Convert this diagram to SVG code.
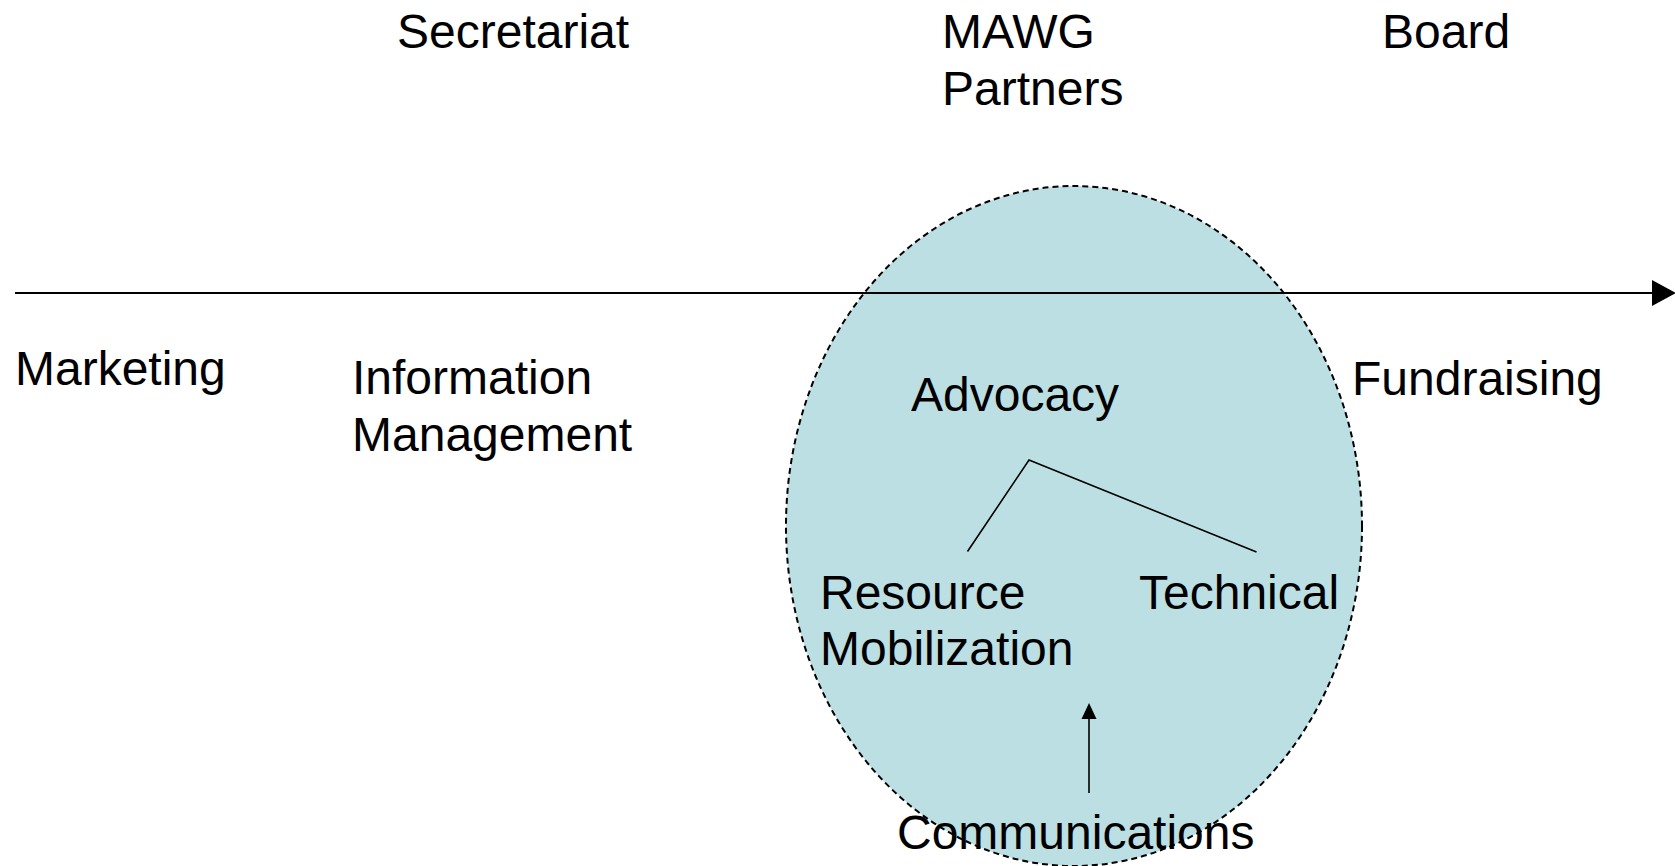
<svg xmlns="http://www.w3.org/2000/svg" width="1675" height="866" viewBox="0 0 1675 866">
  <style>
    text { font-family: "Liberation Sans", Arial, sans-serif; font-size: 48px; fill: #000; }
    .conn { stroke: #000; fill: none; }
  </style>
  <rect width="1675" height="866" fill="#fff"/>

  <g id="partners-ellipse">
    <ellipse cx="1074" cy="526" rx="288" ry="340" fill="#BBDFE3" stroke="#000" stroke-width="2" stroke-dasharray="6,4"/>
  </g>

  <g id="connectors">
    <line class="conn" x1="15" y1="293" x2="1653" y2="293" stroke-width="2"/>
    <polygon points="1652,280 1676,293 1652,306" fill="#000"/>
    <polyline class="conn" points="967.5,551.5 1029,460 1256.5,552" stroke-width="1.6"/>
    <line class="conn" x1="1089" y1="793" x2="1089" y2="716" stroke-width="1.6"/>
    <polygon points="1089,703 1081.5,719 1096.5,719" fill="#000"/>
  </g>

  <g id="secretariat"><text x="397" y="48">Secretariat</text></g>
  <g id="mawg-partners"><text x="942" y="48">MAWG</text><text x="942" y="105">Partners</text></g>
  <g id="board"><text x="1382" y="48">Board</text></g>
  <g id="marketing"><text x="15" y="385">Marketing</text></g>
  <g id="information-management"><text x="352" y="394">Information</text><text x="352" y="451">Management</text></g>
  <g id="advocacy"><text x="911" y="411">Advocacy</text></g>
  <g id="fundraising"><text x="1352" y="395">Fundraising</text></g>
  <g id="resource-mobilization"><text x="820" y="609">Resource</text><text x="820" y="665">Mobilization</text></g>
  <g id="technical"><text x="1139" y="609">Technical</text></g>
  <g id="communications"><text x="897" y="849">Communications</text></g>
</svg>
